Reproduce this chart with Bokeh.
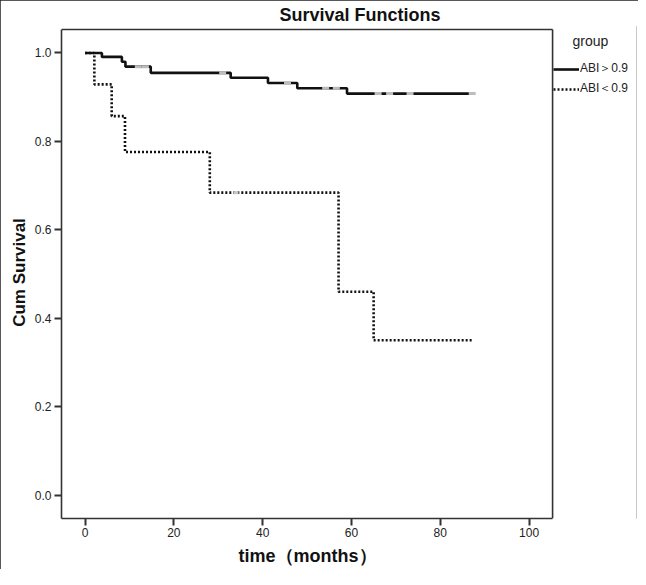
from bokeh.plotting import figure
from bokeh.models import Range1d, Legend, LegendItem, FixedTicker, Title
from bokeh.embed import file_html
from bokeh.resources import INLINE

# ---- data ----
hi_label = "ABI＞0.9"
lo_label = "ABI＜0.9"
hi_time = [0, 3.8, 8.3, 9.1, 14.8, 32.8, 41.2, 47.8, 59.0, 87.5]
hi_surv = [1.0, 0.991, 0.980, 0.969, 0.955, 0.944, 0.932, 0.920, 0.908, 0.908]
lo_time = [0, 2.1, 6.0, 9.0, 28.1, 57.1, 65.0, 87.3]
lo_surv = [1.0, 0.929, 0.857, 0.776, 0.684, 0.460, 0.350, 0.350]
hi_cens_time = [12.0, 13.6, 31.0, 45.6, 54.2, 56.6, 66.0, 68.6, 73.2, 87.2]
lo_cens_time = [34.0]
x_ticks = [0, 20, 40, 60, 80, 100]
y_ticks = [0.0, 0.2, 0.4, 0.6, 0.8, 1.0]

# plot box (axis extents)
X0, X1 = -5.3, 105.3
Y0, Y1 = -0.053, 1.053


def step_value(times, survs, t):
    v = survs[0]
    for tt, ss in zip(times, survs):
        if tt <= t:
            v = ss
    return v


# frame is extended to the right so that the legend can sit beside the box
p = figure(width=638, height=569, output_backend="svg", toolbar_location=None,
           x_range=Range1d(X0, 124.2), y_range=Range1d(Y0, 1.0598),
           min_border_left=61, min_border_right=2, min_border_top=26,
           min_border_bottom=50, background_fill_color="white",
           border_fill_color="white")
p.title = None
t = Title(text="Survival Functions", align="left", offset=218,
          text_font="Liberation Sans", text_font_size="18px",
          text_font_style="bold", text_color="#111111", standoff=4,
          text_line_height=1.0)
p.add_layout(t, "above")

p.grid.visible = False
p.outline_line_color = None
p.styles = {"outline": "2px solid #222222", "outline-offset": "-2px"}

for ax in (p.xaxis[0], p.yaxis[0]):
    ax.axis_line_color = "#333333"
    ax.axis_line_width = 1.6
    ax.major_tick_line_color = "#333333"
    ax.major_tick_line_width = 2
    ax.major_tick_in = 0
    ax.major_tick_out = 7
    ax.minor_tick_line_color = None
    ax.major_label_text_font = "Liberation Sans"
    ax.major_label_text_font_size = "12px"
    ax.major_label_text_color = "#222222"
    ax.axis_label_text_font = "Liberation Sans"
    ax.axis_label_text_font_style = "bold"
    ax.axis_label_text_color = "#111111"

p.xaxis.bounds = (X0, X1)
p.yaxis.bounds = (Y0, Y1)
p.xaxis.ticker = FixedTicker(ticks=x_ticks)
p.yaxis.ticker = FixedTicker(ticks=y_ticks)
p.yaxis.major_label_overrides = {v: f"{v:.1f}" for v in y_ticks}
p.xaxis.major_label_standoff = 2
p.yaxis.major_label_standoff = 3
p.yaxis.axis_label = "Cum Survival"
p.yaxis.axis_label_text_font_size = "17px"
p.yaxis.axis_label_standoff = 3

# x axis title placed under the box (centred on the box, not on the wider frame)
xt = Title(text="time（months）", align="left", offset=177,
           text_font="Liberation Sans", text_font_size="18px",
           text_font_style="bold", text_color="#111111", standoff=8,
           text_line_height=1.0)
p.add_layout(xt, "below")

# top and right sides of the plot box
p.segment(x0=[X0, X1], y0=[Y1, Y0], x1=[X1, X1], y1=[Y1, Y1],
          line_color="#333333", line_width=1.6)

r_hi = p.step(hi_time, hi_surv, mode="after", line_color="#111111", line_width=2.6)
r_lo = p.step(lo_time, lo_surv, mode="after", line_color="#111111", line_width=2.6,
              line_dash="2 2")

hi_cens_surv = [step_value(hi_time, hi_surv, c) for c in hi_cens_time]
lo_cens_surv = [step_value(lo_time, lo_surv, c) for c in lo_cens_time]
p.scatter(hi_cens_time, hi_cens_surv, marker="dash", size=7, line_color="#bdbdbd",
          line_width=3)
p.scatter(lo_cens_time, lo_cens_surv, marker="dash", size=5, line_color="#c8c8c8",
          line_width=3)

legend = Legend(items=[LegendItem(label=hi_label, renderers=[r_hi]),
                       LegendItem(label=lo_label, renderers=[r_lo])],
                title="     group", location=(492, 421),
                margin=0, padding=2, spacing=3, glyph_width=26, glyph_height=14,
                label_standoff=1, label_height=14, title_standoff=11,
                border_line_color=None, background_fill_alpha=0,
                label_text_font="Liberation Sans", label_text_font_size="12px",
                label_text_color="#222222",
                title_text_font="Liberation Sans", title_text_font_size="14px",
                title_text_font_style="normal", title_text_color="#222222")
p.add_layout(legend, "center")

open("out.html", "w").write(file_html(p, INLINE))
